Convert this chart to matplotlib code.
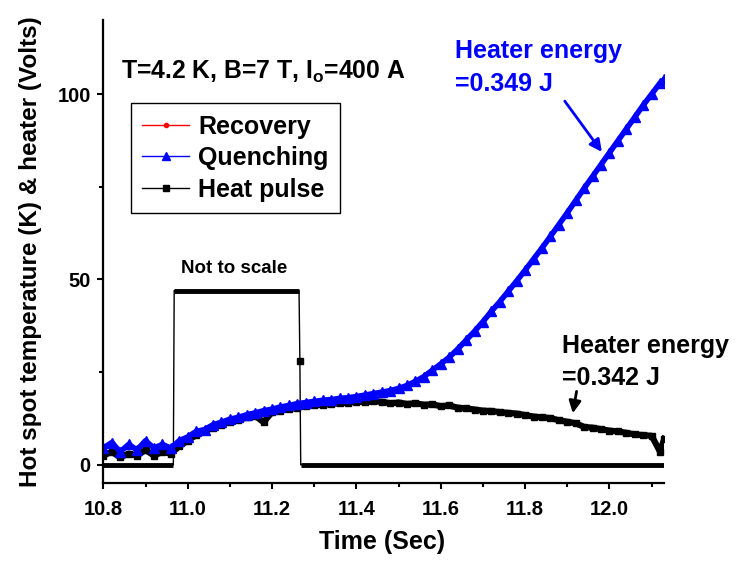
import matplotlib
matplotlib.use('Agg')
import matplotlib.pyplot as plt
from matplotlib.lines import Line2D

plt.rcParams['font.family'] = ['Liberation Sans', 'DejaVu Sans']
plt.rcParams['font.weight'] = 'bold'
plt.rcParams['mathtext.fontset'] = 'custom'
plt.rcParams['mathtext.rm'] = 'Liberation Sans:bold'
plt.rcParams['mathtext.bf'] = 'Liberation Sans:bold'

# quench run: hot spot temperature (K)
quench_t = [10.80, 10.82, 10.84, 10.86, 10.88, 10.90, 10.92, 10.94, 10.96, 10.98,
            11.00, 11.02, 11.04, 11.06, 11.08, 11.10, 11.12, 11.14, 11.16, 11.18,
            11.20, 11.22, 11.24, 11.26, 11.28, 11.30, 11.32, 11.34, 11.36, 11.38,
            11.40, 11.42, 11.44, 11.46, 11.48, 11.50, 11.52, 11.54, 11.56, 11.58,
            11.60, 11.62, 11.64, 11.66, 11.68, 11.70, 11.72, 11.74, 11.76, 11.78,
            11.80, 11.82, 11.84, 11.86, 11.88, 11.90, 11.92, 11.94, 11.96, 11.98,
            12.00, 12.02, 12.04, 12.06, 12.08, 12.10, 12.12, 12.13]
quench_v = [4.5, 6.0, 3.5, 5.5, 4.0, 6.5, 4.5, 5.5, 4.5, 6.5,
            7.5, 9.0, 9.5, 10.8, 11.5, 12.3, 12.8, 13.5, 14.0, 14.6,
            15.0, 15.6, 16.0, 16.5, 16.8, 17.1, 17.4, 17.6, 17.9, 18.1,
            18.4, 18.8, 19.2, 19.6, 20.0, 20.6, 21.4, 22.5, 23.8, 25.5,
            27.2, 29.0, 31.2, 33.6, 36.0, 38.6, 41.4, 44.0, 46.8, 49.6,
            52.5, 55.5, 58.5, 61.6, 64.8, 68.0, 71.3, 74.6, 77.8, 81.0,
            84.2, 87.4, 90.6, 93.8, 97.0, 100.0, 103.0, 104.0]

# recovery run: hot spot temperature (K)
recov_t = quench_t
recov_v = [2.5, 3.5, 2.0, 3.0, 2.5, 4.0, 2.5, 3.5, 3.0, 5.0,
           6.5, 8.0, 9.0, 10.0, 10.8, 11.6, 12.0, 12.8, 13.2, 11.5,
           14.2, 14.6, 15.0, 15.4, 15.8, 16.0, 16.2, 16.4, 16.6, 16.8,
           17.0, 16.9, 17.1, 17.0, 16.6, 16.8, 16.4, 16.6, 16.2, 16.3,
           15.8, 16.0, 15.4, 15.2, 14.9, 14.6, 14.5, 14.2, 14.0, 13.8,
           13.4, 13.0, 12.8, 12.6, 12.0, 11.6, 11.2, 10.2, 10.0, 9.6,
           9.2, 9.0, 8.6, 8.2, 8.0, 7.8, 3.5, 7.0]

# heater pulse (Volts)
pulse_t = [10.80, 10.966, 10.968, 11.264, 11.266, 11.268, 12.13]
pulse_v = [0, 0, 47, 47, 28, 0, 0]

fig = plt.figure(figsize=(7.46, 5.62), dpi=100)
ax = fig.add_axes([0.1385, 0.140, 0.752, 0.8245])

ax.plot(pulse_t, pulse_v, color='black', lw=1.0)
ax.hlines([pulse_v[0], pulse_v[2], pulse_v[5]],
          [pulse_t[0], pulse_t[2], pulse_t[5]],
          [pulse_t[1], pulse_t[3], pulse_t[6]], color='black', lw=3.5)
ax.plot([pulse_t[4]], [pulse_v[4]], 's', color='black', ms=4)

ax.plot(recov_t, recov_v, '-s', color='black', lw=4.5, ms=5)
ax.plot(quench_t, quench_v, '-^', color='blue', lw=4, ms=7)

ax.set_xlim(10.8, 12.13)
ax.set_ylim(-5, 120)
ax.set_xticks([10.8, 11.0, 11.2, 11.4, 11.6, 11.8, 12.0])
ax.set_xticks([10.9, 11.1, 11.3, 11.5, 11.7, 11.9, 12.1], minor=True)
ax.set_yticks([0, 50, 100])
ax.set_yticks([25, 75], minor=True)
for s in ['top', 'right']:
    ax.spines[s].set_visible(False)
for s in ['left', 'bottom']:
    ax.spines[s].set_linewidth(1.6)
ax.tick_params(which='major', direction='out', length=4, width=1.5, labelsize=14.5)
ax.tick_params(axis='x', which='major', pad=8)
ax.tick_params(axis='y', which='major', pad=5)
ax.tick_params(which='minor', direction='out', length=3, width=1.5)

ax.set_xlabel('Time (Sec)', fontsize=18, fontweight='bold')
ax.set_ylabel('Hot spot temperature (K) & heater (Volts)', fontsize=17.5, fontweight='bold')
ax.xaxis.set_label_coords(0.4977, -0.100)
ax.yaxis.set_label_coords(-0.11, 0.5)

ax.text(10.842, 105.9, r'T=4.2 K, B=7 T, I$_\mathrm{o}$=400 A', fontsize=17.8,
        fontweight='bold', ha='left', va='center')
ax.text(11.634, 111.6, 'Heater energy', color='blue', fontsize=18,
        fontweight='bold', ha='left', va='center')
ax.text(11.634, 102.7, '=0.349 J', color='blue', fontsize=18,
        fontweight='bold', ha='left', va='center')
ax.text(11.887, 32.0, 'Heater energy', color='black', fontsize=18,
        fontweight='bold', ha='left', va='center')
ax.text(11.887, 23.3, '=0.342 J', color='black', fontsize=18,
        fontweight='bold', ha='left', va='center')
ax.text(11.11, 53.0, 'Not to scale', fontsize=13.5, fontweight='bold',
        ha='center', va='center')

ax.annotate('', xy=(11.982, 84.4), xytext=(11.894, 98.1),
            arrowprops=dict(arrowstyle='-|>', color='blue', lw=2,
                            mutation_scale=18, shrinkA=0, shrinkB=0))
ax.annotate('', xy=(11.913, 13.9), xytext=(11.922, 19.8),
            arrowprops=dict(arrowstyle='-|>', color='black', lw=2,
                            mutation_scale=18, shrinkA=0, shrinkB=0))

handles = [Line2D([], [], color='red', lw=1, marker='o', ms=3),
           Line2D([], [], color='blue', lw=1, marker='^', ms=6),
           Line2D([], [], color='black', lw=1, marker='s', ms=4)]
leg = ax.legend(handles, ['Recovery', 'Quenching', 'Heat pulse'],
                loc='upper left', bbox_to_anchor=(0.1752, 0.8162),
                bbox_transform=fig.transFigure, borderaxespad=0,
                prop={'weight': 'bold', 'size': 18},
                fancybox=False, framealpha=1, edgecolor='black',
                handlelength=1.9, handletextpad=0.35, labelspacing=0.3,
                borderpad=0.45)
leg.get_frame().set_linewidth(1.0)

fig.savefig('out.png', dpi=100)
